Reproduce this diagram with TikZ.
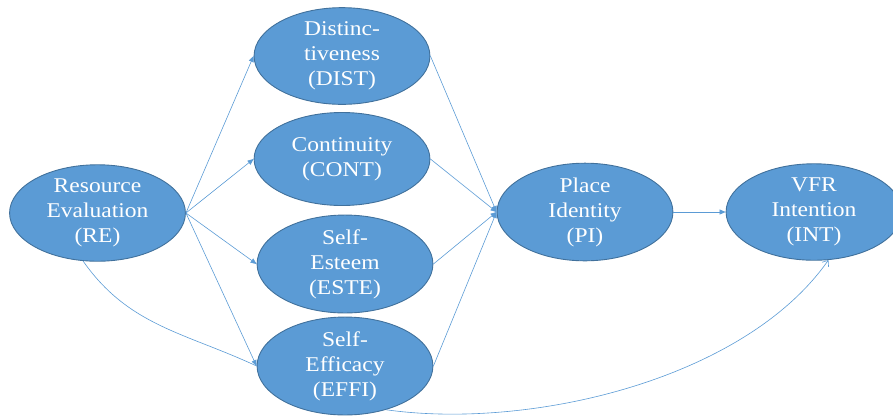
\documentclass[tikz,border=0pt]{standalone}
\usepackage{fontspec}
\setmainfont{Liberation Serif}[Ligatures=TeX]
\usepackage{xcolor}
\usetikzlibrary{arrows, arrows.meta}
\usetikzlibrary{shapes.geometric}
\definecolor{boxblue}{HTML}{5B9BD5}
\definecolor{rimblue}{HTML}{41719C}

\begin{document}
\begin{tikzpicture}[x=1pt, y=-1pt,
		construct/.style={ellipse, draw=rimblue, line width=0.9pt, fill=boxblue,
			xscale=1.12, transform shape,
			minimum width=157pt, minimum height=93pt, inner sep=0pt,
			text=white, align=center, font=\rmfamily\fontsize{21}{25}\selectfont},
		path/.style={draw=boxblue, line width=0.6pt, -{Triangle[length=6pt, width=5pt]}}]
				% Page frame
				\useasboundingbox (0,0) rectangle (893,416);
				\clip (0,0) rectangle (893,416);
				
				% Draw the constructs
				\node[construct] (re) at (97.5,213) {Resource\\Evaluation\\(RE)};
				\node[construct] (dist) at (342,56) {Distinc-\\tiveness\\(DIST)};
				\node[construct] (cont) at (342,159) {Continuity\\(CONT)};
				\node[construct] (este) at (345,264) {Self-\\Esteem\\(ESTE)};
				\node[construct] (effi) at (345,366) {Self-\\Efficacy\\(EFFI)};
				\node[construct] (pi) at (585,212) {Place\\Identity\\(PI)};
				\node[construct] (int) at (814,212) {VFR\\Intention\\(INT)};
				
				% Draw the paths from RE
				\draw[path] (re.east) -- (dist.west);
				\draw[path] (re.east) -- (cont.west);
				\draw[path] (re.east) -- (este.west);
				\draw[path] (re.east) -- (effi.west);
				
				% Draw the paths into PI
				\draw[path] (dist.east) -- (pi.west);
				\draw[path] (cont.east) -- (pi.west);
				\draw[path] (este.east) -- (pi.west);
				\draw[path] (effi.east) -- (pi.west);
				\draw[path] (pi.east) -- (int.west);
				
				% Draw the two curves
				\draw[path, -] (re.-105) to[out=-55, in=155] (effi.west);
				\draw[path, -{Straight Barb[length=5pt, width=8pt]}] (effi.-50) to[out=-8, in=-125, looseness=0.8] (int.-75);
			\end{tikzpicture}
\end{document}
